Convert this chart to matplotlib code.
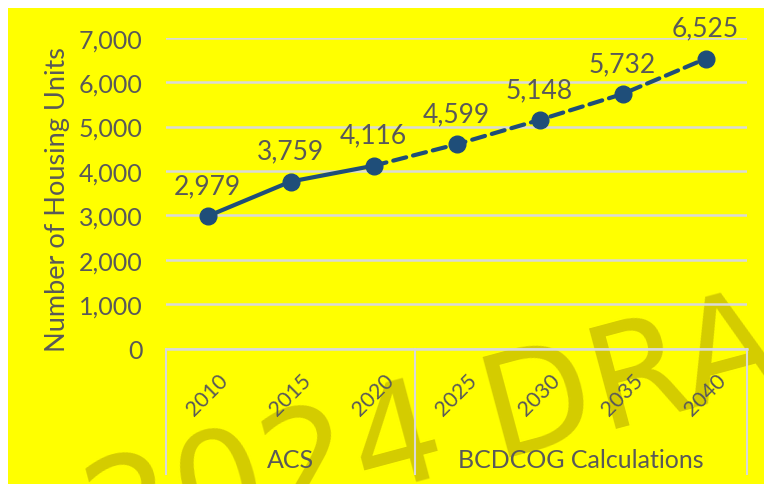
import matplotlib.pyplot as plt
from matplotlib.patches import Rectangle
import matplotlib.transforms as mtransforms

plt.rcParams['font.family'] = ['Lato', 'DejaVu Sans']

# data
years = ['2010', '2015', '2020', '2025', '2030', '2035', '2040']
units = [2979, 3759, 4116, 4599, 5148, 5732, 6525]
n_actual = 3  # ACS years, rest are projections
groups = ['ACS', 'BCDCOG Calculations']
group_sizes = [3, 4]

navy = '#1F4E79'
txt = '#595959'
grid = '#D9D9D9'

W, H = 764, 485
fig = plt.figure(figsize=(W / 100, H / 100), dpi=100, facecolor='white')
fig.patches.append(Rectangle((8 / W, 0), 756 / W, 476 / H, transform=fig.transFigure,
                             facecolor='#FFFF00', edgecolor='none', zorder=-2))
# watermark
fig.text(100 / W, (H - 567) / H, '2024 DRAFT', fontsize=103, color='#D4CC00',
         family='DejaVu Sans', rotation=15, rotation_mode='anchor',
         ha='left', va='baseline', zorder=-1)

ax = fig.add_axes([166 / W, 135.5 / H, 581 / W, 310.8 / H])
ax.patch.set_alpha(0)

x = list(range(len(years)))
ax.plot(x[:n_actual], units[:n_actual], color=navy, lw=3, solid_capstyle='round', zorder=3)
ax.plot(x[n_actual - 1:], units[n_actual - 1:], color=navy, lw=3, dashes=(3.2, 1.7),
        dash_capstyle='round', zorder=3)
ax.plot(x, units, 'o', color=navy, ms=12, zorder=4)

for xi, v in zip(x, units):
    ax.annotate(f'{v:,}', (xi, v), xytext=(0, 13), textcoords='offset points',
                ha='center', va='bottom', fontsize=19, color=txt)

ax.set_xlim(-0.5, len(years) - 0.5)
ax.set_ylim(0, 7000)
ax.set_yticks(range(0, 7001, 1000))
ax.set_yticklabels([f'{t:,}' for t in range(0, 7001, 1000)])
ax.yaxis.grid(True, color=grid, lw=1.8)
ax.set_axisbelow(True)
for s in ax.spines.values():
    s.set_visible(False)
ax.tick_params(axis='y', length=0, pad=17, labelsize=18, labelcolor=txt)
ax.set_ylabel('Number of Housing Units', fontsize=19.5, color=txt)
ax.yaxis.set_label_coords(-0.165, 0.481)

ax.set_xticks(x)
ax.set_xticklabels(years, rotation=45, ha='center', va='center', rotation_mode='anchor')
ax.tick_params(axis='x', length=0, pad=33, labelsize=15.5, labelcolor=txt)

# group boxes under the axis
trans = mtransforms.blended_transform_factory(ax.transData, ax.transAxes)
bottom = -(475 - 349.5) / 310.8
ax.plot([-0.5, len(years) - 0.5], [0, 0], color=grid, lw=1.8, transform=trans, clip_on=False)
edge = -0.5
for g, size in zip(groups, group_sizes):
    ax.plot([edge, edge], [0, bottom], color=grid, lw=1.5, transform=trans, clip_on=False)
    ax.text(edge + size / 2, -(461 - 349.5) / 310.8, g, transform=trans, ha='center',
            va='center', fontsize=18, color=txt)
    edge += size
ax.plot([edge, edge], [0, bottom], color=grid, lw=1.5, transform=trans, clip_on=False)

fig.savefig('out.png', dpi=100, facecolor='white')
